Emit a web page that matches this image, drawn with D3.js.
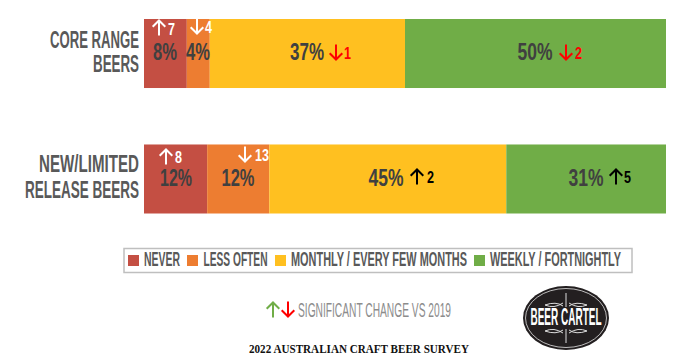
<!DOCTYPE html>
<html>
<head>
<meta charset="utf-8">
<script src="https://cdn.jsdelivr.net/npm/d3@7.9.0/dist/d3.min.js"></script>
<style>
  html, body { margin: 0; background: #fff; }
  svg { display: block; }
  text { font-family: 'Liberation Sans Narrow', 'Liberation Sans', sans-serif; }
</style>
</head>
<body>
<div id="chart"></div>
<script>
const categories = ['CORE RANGE BEERS', 'NEW/LIMITED RELEASE BEERS'];
const series = ['NEVER', 'LESS OFTEN', 'MONTHLY / EVERY FEW MONTHS', 'WEEKLY / FORTNIGHTLY'];
const coreShares = [8.2, 4.4, 37.4, 50.0];
const newShares = [12.1, 11.9, 45.4, 30.6];
const coreChanges = [7, -4, -1, -2];
const newChanges = [8, -13, 2, 5];
const colors = ['#c44f43', '#ed7d31', '#ffc020', '#70ad47'];

const width = 700, height = 361;
const svg = d3.select('#chart').append('svg').attr('width', width).attr('height', height);

const x = d3.scaleLinear().domain([0, 100]).range([144, 666]);
const y = d3.scaleBand().domain(categories).range([19, 213.5]).paddingInner(0.45);

const rows = [
  { name: categories[0], shares: coreShares, changes: coreChanges },
  { name: categories[1], shares: newShares, changes: newChanges },
];

// hand placed to follow the slide, labels are not centred in the original
const catLines = [[['CORE RANGE', 48, 89], ['BEERS', 72, 46]], [['NEW/LIMITED', 172, 100], ['RELEASE BEERS', 198, 114]]];
const pctPos = [[165, 198, 307, 535], [176, 238, 386, 586]];
const pctBase = [60, 186];
const pctWidth = [[24, 24, 34, 35], [32, 33, 35, 35]];
const arrowPos = [[[159, 28], [197, 26], [336, 52], [566, 52]], [[166, 157], [245, 154], [417, 177], [616, 177]]];
const digitPos = [[168, 35], [205, 33], [344, 59], [575, 59]];
const digitPos2 = [[175, 163], [255, 161], [427, 183], [624, 183]];
const changeColors = [['#fff', '#fff', '#f00', '#f00'], ['#fff', '#fff', '#000', '#000']];

function arrow(g, cx, cy, up, color, size = 15) {
  const d = up ? -1 : 1, h = size / 2, w = size * 0.42;
  g.append('path')
    .attr('d', `M${cx},${cy - d * h}L${cx},${cy + d * h}M${cx - w},${cy + d * (h - w)}L${cx},${cy + d * h}L${cx + w},${cy + d * (h - w)}`)
    .attr('fill', 'none').attr('stroke', color).attr('stroke-width', 2);
}

function label(g, str, px, base, fit, size, color, anchor = 'start') {
  return g.append('text').attr('x', px).attr('y', base)
    .attr('font-size', size).attr('fill', color).attr('font-weight', 'bold')
    .attr('text-anchor', anchor)
    .attr('textLength', fit).attr('lengthAdjust', 'spacingAndGlyphs')
    .text(str);
}

rows.forEach((row, r) => {
  const g = svg.append('g');
  const stack = d3.cumsum(row.shares);

  g.selectAll('rect').data(row.shares).join('rect')
    .attr('x', (d, i) => x(stack[i] - d))
    .attr('width', d => x(d) - x(0))
    .attr('y', y(row.name))
    .attr('height', y.bandwidth())
    .attr('fill', (d, i) => colors[i]);

  catLines[r].forEach(([str, base, fit]) => label(g, str, 139, base, fit, 24, '#595959', 'end'));

  row.shares.forEach((d, i) => {
    label(g, d3.format('.0f')(d) + '%', pctPos[r][i], pctBase[r], pctWidth[r][i], 24, '#404040', 'middle');
    const c = row.changes[i];
    const [ax, ay] = arrowPos[r][i];
    arrow(g, ax, ay, c > 0, changeColors[r][i]);
    const [dx, dy] = (r ? digitPos2 : digitPos)[i];
    label(g, String(Math.abs(c)), dx, dy, String(Math.abs(c)).length * 7, 17, changeColors[r][i]);
  });
});

// legend
const legend = svg.append('g');
legend.append('rect').attr('x', 124).attr('y', 248.5).attr('width', 508).attr('height', 24)
  .attr('fill', '#fff').attr('stroke', '#bfbfbf').attr('stroke-width', 1.5);
const swatchX = [128, 187, 275, 474];
const legendX = [144, 203.5, 291, 490];
const legendFit = [36, 64, 176, 131];
series.forEach((s, i) => {
  legend.append('rect').attr('x', swatchX[i]).attr('y', 255).attr('width', 11).attr('height', 11).attr('fill', colors[i]);
  label(legend, s, legendX[i], 265.5, legendFit[i], 20, '#595959');
});

// significance note
arrow(svg, 273, 310, true, '#70ad47');
arrow(svg, 288, 309, false, '#f00');
svg.append('text').attr('x', 298).attr('y', 316.5).attr('font-size', 21).attr('fill', '#8c8c8c')
  .attr('textLength', 153).attr('lengthAdjust', 'spacingAndGlyphs').text('SIGNIFICANT CHANGE VS 2019');

// logo
const logo = svg.append('g').attr('transform', 'translate(566,318)');
logo.append('ellipse').attr('rx', 43).attr('ry', 32).attr('fill', '#231f20');
logo.append('ellipse').attr('rx', 40.5).attr('ry', 29.5).attr('fill', 'none').attr('stroke', '#fff').attr('stroke-width', 0.7);
logo.append('text').attr('text-anchor', 'middle').attr('y', 7).attr('font-size', 24).attr('font-weight', 'bold').attr('fill', '#fff')
  .attr('textLength', 71).attr('lengthAdjust', 'spacingAndGlyphs').text('BEER CARTEL');
[-1, 1].forEach(s => {
  logo.append('path').attr('d', `M-21,${s * 13}Q-10,${s * 17} -3,${s * 12}M-21,${s * 13}Q-12,${s * 9} -3,${s * 15}M21,${s * 13}Q10,${s * 17} 3,${s * 12}M21,${s * 13}Q12,${s * 9} 3,${s * 15}M0,${s * 11}L0,${s * 25}`)
    .attr('fill', 'none').attr('stroke', '#ddd').attr('stroke-width', 1);
});

// footer
svg.append('text').attr('x', 359).attr('y', 353).attr('text-anchor', 'middle')
  .attr('font-size', 12).attr('font-weight', 'bold').attr('fill', '#111')
  .style('font-family', "'Liberation Serif', serif")
  .attr('textLength', 220).attr('lengthAdjust', 'spacingAndGlyphs').text('2022 AUSTRALIAN CRAFT BEER SURVEY');
</script>
</body>
</html>
